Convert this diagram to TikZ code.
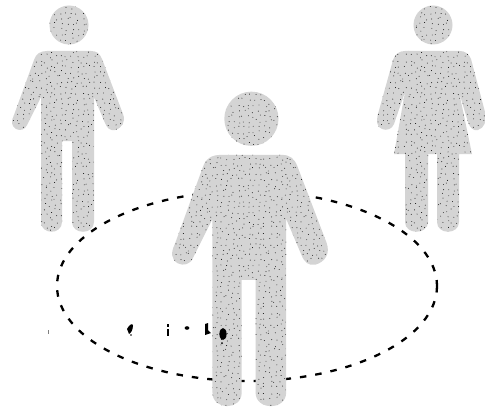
\documentclass[tikz,border=0pt]{standalone}
\definecolor{stipplegray}{gray}{0.83}
\tikzset{
  ring/.style={line width=2.3pt,dash pattern=on 6.5pt off 9pt,black},
  speck/.style={fill=black,draw=none},
  body/.style={fill=stipplegray},
  tile/.style={inner sep=0pt,outer sep=0pt,anchor=south west}
}
\newsavebox{\tilebox}
\newcommand{\manoutline}{%
  (47,51) -- (91,51) .. controls (97,51) and (100,54) .. (102,59)
  -- (123,114) .. controls (126,122) and (122,128) .. (115,130)
  .. controls (110,131) and (107,128) .. (105,123)
  -- (94,97) -- (94,222) .. controls (94,235) and (72,235) .. (72,222)
  -- (72,141) -- (62,141) -- (62,222) .. controls (62,235) and (41,235) .. (41,222)
  -- (41,97) -- (27,125) .. controls (25,130) and (20,131) .. (16,129)
  .. controls (11,126) and (11,121) .. (14,115)
  -- (34,60) .. controls (36,54) and (40,51) .. (47,51) -- cycle
  (88.5,25) arc[start angle=0,end angle=360,radius=19.5]}
\newcommand{\womanoutline}{%
  (405,51) -- (460,51) .. controls (465,51) and (469,54) .. (471,59)
  -- (485,112) .. controls (487,122) and (484,128) .. (478,130)
  .. controls (473,131) and (470,128) .. (468,122)
  -- (459,92) -- (472,154) -- (459,154) -- (459,222)
  .. controls (459,235) and (437,235) .. (437,222)
  -- (437,154) -- (428,154) -- (428,222)
  .. controls (428,235) and (405,235) .. (405,222)
  -- (405,154) -- (394,154) -- (405,92) -- (394,124)
  .. controls (392,129) and (387,131) .. (382,129)
  .. controls (377,127) and (376,122) .. (378,114)
  -- (393,60) .. controls (395,54) and (399,51) .. (405,51) -- cycle
  (452.5,25) arc[start angle=0,end angle=360,radius=19.5]}
\newcommand{\tiles}[5]{% prefix, x origin, y origin, last column, last row
  \foreach \tx in {0,...,#4}{\foreach \ty in {0,...,#5}{
    \node[tile] (#1\tx\ty) at ({#2+\tx*80},{#3+\ty*80}) {\usebox{\tilebox}};
  }}
}
\begin{document}
\sbox{\tilebox}{\begin{pgfpicture}
  \pgfpathrectangle{\pgfqpoint{0pt}{0pt}}{\pgfqpoint{80pt}{80pt}}
  \pgfusepath{use as bounding box}
  \pgfmathsetseed{17}
  \begin{pgfscope}
  \pgfsetfillcolor{black}
  \foreach \i in {1,...,15}{\foreach \j in {1,...,15}{
    \pgfmathsetmacro{\px}{(\i-0.5)*5.33+rand*2}
    \pgfmathsetmacro{\py}{(\j-0.5)*5.33+rand*2}
    \pgfpathcircle{\pgfqpoint{\px pt}{\py pt}}{0.45pt}
    \pgfusepath{fill}
  }}
  \end{pgfscope}
\end{pgfpicture}}%
\begin{tikzpicture}[x=1pt,y=-1pt]
\useasboundingbox (0,0) rectangle (485,412);
\fill[white] (0,0) rectangle (485,412);
\draw[ring] (247,286) ellipse[x radius=190,y radius=95];
% left man
\fill[body] \manoutline;
\begin{scope}
  \clip \manoutline;
  \tiles{m}{0}{80}{1}{2}
\end{scope}
% right woman
\fill[body] \womanoutline;
\begin{scope}
  \clip \womanoutline;
  \tiles{w}{370}{80}{1}{2}
\end{scope}
% centre man
\begin{scope}[shift={(155.5,84)},x=1.39pt,y=-1.39pt]
  \fill[body] \manoutline;
  \clip \manoutline;
  \begin{scope}[x=1pt,y=-1pt]
    \tiles{c}{0}{88}{2}{3}
  \end{scope}
\end{scope}
% specks
\fill[speck] (127,329) .. controls (129,325) and (132,323) .. (133,325) .. controls (133,330) and (131,333) .. (129,334) -- cycle;
\fill[speck] (131,335) circle[radius=0.8];
\fill[speck] (167,324) rectangle (169,327);
\fill[speck] (167,329) rectangle (169,336);
\fill[speck] (187,328) circle[x radius=2.4,y radius=1.8];
\fill[speck] (205,324) -- (208,323) -- (208,330) -- (211,333) -- (205,335) -- cycle;
\fill[speck] (223,334) ellipse[x radius=3.6,y radius=6];
\fill[speck] (222,343) circle[radius=1];
\fill[black!50] (48,330) rectangle (49,334);
\end{tikzpicture}
\end{document}
